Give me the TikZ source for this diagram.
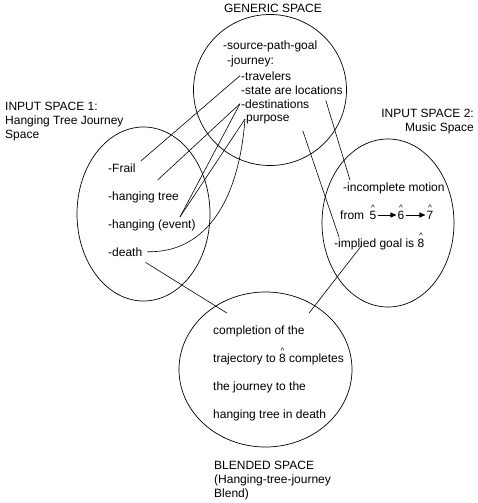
\documentclass[tikz,border=0pt]{standalone}
\usepackage{fontspec}
\setmainfont{Liberation Sans}
\usepackage{tikz}
\usetikzlibrary{shapes.geometric, arrows.meta, positioning}
\newcommand{\hatdeg}[1]{{\ooalign{#1\cr\hidewidth\raisebox{8.5pt}{\footnotesize\textasciicircum}\hidewidth\cr}}}

\begin{document}
\begin{tikzpicture}[x=1pt, y=-1pt,
  space/.style={ellipse, draw, line width=0.7pt, inner sep=0pt},
  item/.style={anchor=base west, inner sep=1pt, font=\fontsize{12}{14}\selectfont},
  title/.style={inner sep=0pt, font=\fontsize{12}{14}\selectfont},
  link/.style={line width=0.6pt},
  degarrow/.style={-{Triangle[length=6pt,width=5pt]}, line width=0.7pt}
]
  \useasboundingbox (0,0) rectangle (478,503);
  \path[fill=white] (0,0) rectangle (478,503);

  % the four spaces
  \node[space, minimum width=153pt, minimum height=151pt] (generic) at (270,90) {};
  \node[space, minimum width=133pt, minimum height=174pt] (input1) at (143.5,214) {};
  \node[space, minimum width=132pt, minimum height=168pt] (input2) at (388,223) {};
  \node[space, minimum width=173pt, minimum height=155pt] (blend) at (265.5,369.5) {};

  % generic space
  \node[title, anchor=base] (gtitle) at (273,13) {GENERIC SPACE};
  \node[item] (spg) at (222,49) {-source-path-goal};
  \node[item] (journey) at (226,64) {-journey:};
  \node[item] (travel) at (240,80) {-travelers};
  \node[item] (state) at (240,94) {-state are locations};
  \node[item] (dest) at (240,108) {-destinations};
  \node[item] (purpose) at (245,121) {purpose};

  % input space 1
  \node[title, anchor=north west, align=left] (in1title) at (5,102) {INPUT SPACE 1:\\Hanging Tree Journey\\Space};
  \node[item] (frail) at (107,172) {-Frail};
  \node[item] (hangtree) at (107,200) {-hanging tree};
  \node[item] (hangevent) at (107,228) {-hanging (event)};
  \node[item] (death) at (107,256) {-death};

  % input space 2
  \node[title, anchor=north east, align=right] (in2title) at (474,109) {INPUT SPACE 2:\\Music Space};
  \node[item] (incomplete) at (342,191) {-incomplete motion};
  \node[item] (from) at (339,219) {from};
  \node[item, anchor=base] (deg5) at (373,219) {\hatdeg{5}};
  \node[item, anchor=base] (deg6) at (401,219) {\hatdeg{6}};
  \node[item, anchor=base] (deg7) at (430,219) {\hatdeg{7}};
  \node[item] (implied) at (333,247) {-implied goal is \hatdeg{8}};

  \draw[degarrow] ([yshift=4pt]deg5.base east) -- ([yshift=4pt]deg6.base west);
  \draw[degarrow] ([yshift=4pt]deg6.base east) -- ([yshift=4pt]deg7.base west);

  % blended space
  \node[item] (blend1) at (212,334) {completion of the};
  \node[item] (blend2) at (212,362) {trajectory to \hatdeg{8} completes};
  \node[item] (blend3) at (212,390) {the journey to the};
  \node[item] (blend4) at (212,418) {hanging tree in death};
  \node[title, anchor=north west, align=left] (btitle) at (214,461) {BLENDED SPACE\\(Hanging-tree-journey\\Blend)};

  % mappings
  \draw[link] (travel.west) -- ([xshift=4pt,yshift=1pt]frail.north east);
  \draw[link] (dest.west) -- ([xshift=14pt,yshift=10pt]hangtree.north);
  \draw[link] (dest.west) -- ([xshift=28pt,yshift=1pt]hangevent.north);
  \draw[link] (purpose.west) -- ([xshift=28pt,yshift=1pt]hangevent.north);
  \draw[link] (purpose.west) .. controls (238,210) and (200,253) .. ([xshift=4pt]death.east);
  \draw[link] ([xshift=2pt,yshift=-5pt]death.south east) -- ([xshift=15pt,yshift=11pt]blend1.north west);
  \draw[link] ([xshift=-18pt,yshift=-5pt]state.south east) -- ([xshift=8pt,yshift=1pt]incomplete.north west);
  \draw[link] ([xshift=12pt,yshift=-6pt]purpose.south east) -- ([xshift=6pt]implied.north west);
  \draw[link] ([xshift=29pt,yshift=2pt]implied.base west) -- ([xshift=97pt,yshift=11pt]blend1.north west);
\end{tikzpicture}
\end{document}
